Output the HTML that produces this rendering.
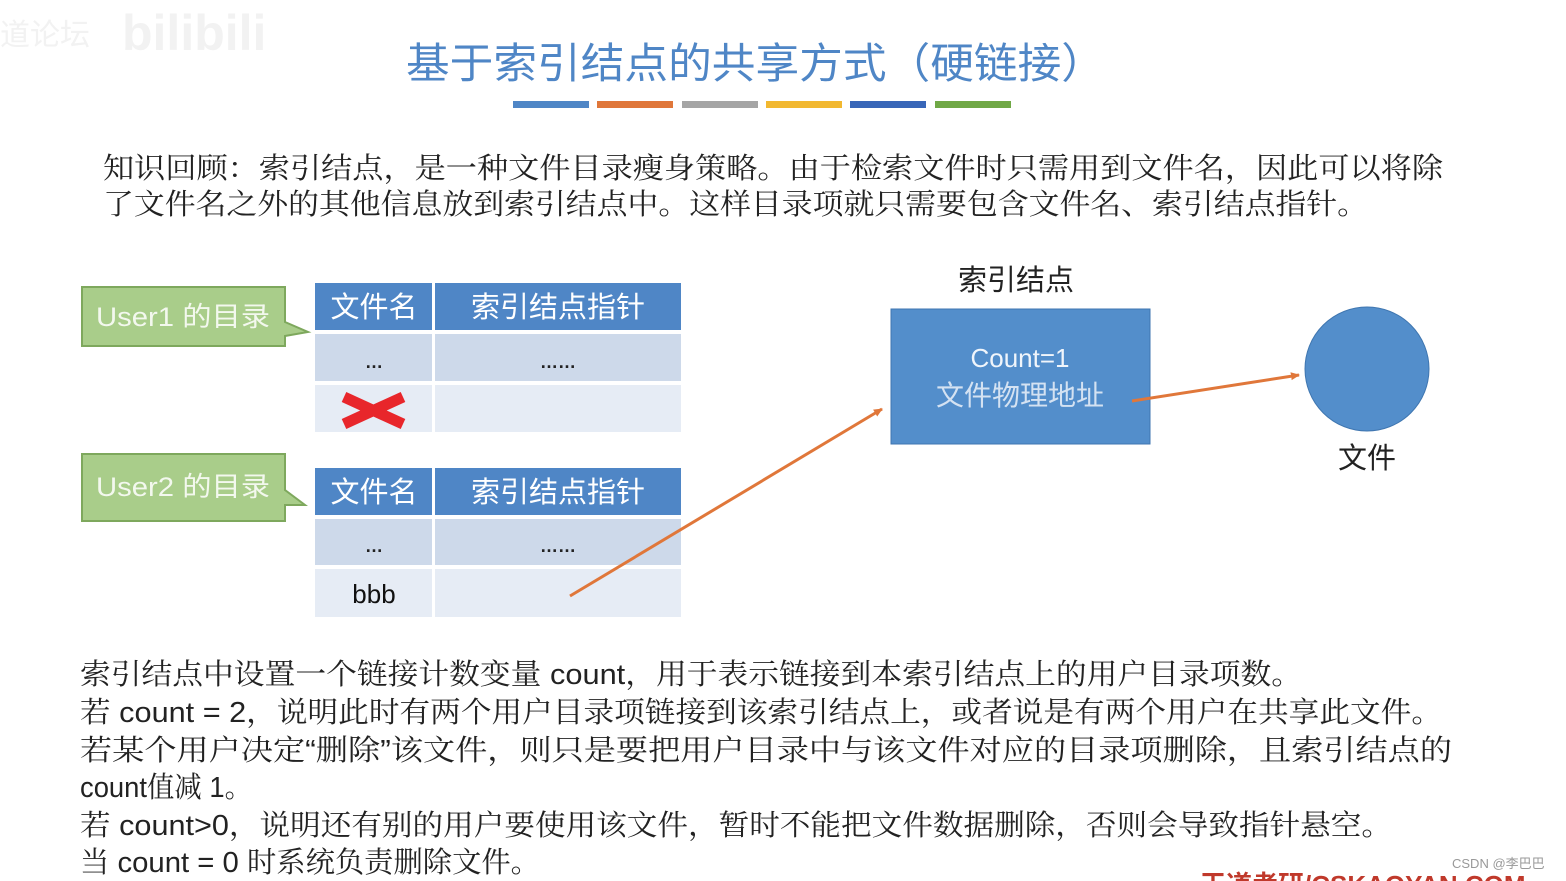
<!DOCTYPE html>
<html><head><meta charset="utf-8"><style>
html,body{margin:0;padding:0;background:#fff;}
body{width:1566px;height:881px;overflow:hidden;position:relative;}
svg{position:absolute;left:0;top:0;}
.s{font-family:"Liberation Sans","Noto Serif CJK SC",serif;}
.a{font-family:"Liberation Sans","Noto Sans CJK SC",sans-serif;}
</style></head><body>
<svg width="1566" height="881" viewBox="0 0 1566 881">
<defs>
<marker id="ah" markerWidth="10" markerHeight="10" refX="8" refY="5" orient="auto" markerUnits="userSpaceOnUse"><path d="M0,1 L9,5 L0,9 Z" fill="#e0773a"/></marker>
</defs>
<text x="0" y="45" class="a" font-size="30" fill="#f2f2f2">道论坛</text>
<text x="122" y="50" class="a" font-size="50" font-weight="bold" fill="#f2f2f2">bilibili</text>
<text x="406" y="78" textLength="699" lengthAdjust="spacingAndGlyphs" class="a" font-size="42" fill="#4f86c6">基于索引结点的共享方式（硬链接）</text>
<rect x="513" y="101" width="76" height="7" fill="#4f86c6"/>
<rect x="597" y="101" width="76" height="7" fill="#e0773a"/>
<rect x="682" y="101" width="76" height="7" fill="#a5a5a5"/>
<rect x="766" y="101" width="76" height="7" fill="#f2b830"/>
<rect x="850" y="101" width="76" height="7" fill="#3866b8"/>
<rect x="935" y="101" width="76" height="7" fill="#70a846"/>
<g class="s" font-size="29" fill="#222">
<text x="103" y="178" textLength="1340" lengthAdjust="spacingAndGlyphs">知识回顾：索引结点，是一种文件目录瘦身策略。由于检索文件时只需用到文件名，因此可以将除</text>
<text x="103" y="214" textLength="1265" lengthAdjust="spacingAndGlyphs">了文件名之外的其他信息放到索引结点中。这样目录项就只需要包含文件名、索引结点指针。</text>
</g>
<path d="M82,287 H285 V322 L308,332 L285,336 V346 H82 Z" fill="#a9cd8a" stroke="#7ea85d" stroke-width="2"/>
<text x="96" y="326" textLength="174" lengthAdjust="spacingAndGlyphs" class="a" font-size="27" fill="#f3f8ee">User1 的目录</text>
<path d="M82,454 H285 V490 L305,505 L285,505 V521 H82 Z" fill="#a9cd8a" stroke="#7ea85d" stroke-width="2"/>
<text x="96" y="496" textLength="174" lengthAdjust="spacingAndGlyphs" class="a" font-size="27" fill="#f3f8ee">User2 的目录</text>
<rect x="315" y="283" width="366" height="47" fill="#4f86c6"/>
<rect x="315" y="334" width="366" height="47" fill="#cdd9ea"/>
<rect x="315" y="385" width="366" height="47" fill="#e6ecf5"/>
<rect x="432" y="283" width="3" height="149" fill="#fff"/>
<text x="374" y="317" text-anchor="middle" class="a" font-size="29" fill="#fff">文件名</text>
<text x="558" y="317" text-anchor="middle" class="a" font-size="29" fill="#fff">索引结点指针</text>
<text x="374" y="368" text-anchor="middle" class="a" font-size="18" font-weight="bold" fill="#222">…</text>
<text x="558" y="368" text-anchor="middle" class="a" font-size="18" font-weight="bold" fill="#222">……</text>
<line x1="344" y1="397" x2="403" y2="424" stroke="#e8262b" stroke-width="11"/>
<line x1="344" y1="424" x2="403" y2="397" stroke="#e8262b" stroke-width="11"/>
<rect x="315" y="468" width="366" height="47" fill="#4f86c6"/>
<rect x="315" y="519" width="366" height="46" fill="#cdd9ea"/>
<rect x="315" y="569" width="366" height="48" fill="#e6ecf5"/>
<rect x="432" y="468" width="3" height="149" fill="#fff"/>
<text x="374" y="502" text-anchor="middle" class="a" font-size="29" fill="#fff">文件名</text>
<text x="558" y="502" text-anchor="middle" class="a" font-size="29" fill="#fff">索引结点指针</text>
<text x="374" y="552" text-anchor="middle" class="a" font-size="18" font-weight="bold" fill="#222">…</text>
<text x="558" y="552" text-anchor="middle" class="a" font-size="18" font-weight="bold" fill="#222">……</text>
<text x="374" y="603" text-anchor="middle" class="a" font-size="26" fill="#111">bbb</text>
<text x="1016" y="290" text-anchor="middle" class="a" font-size="29" fill="#222">索引结点</text>
<rect x="891" y="309" width="259" height="135" fill="#538ecb" stroke="#3f76b0" stroke-width="1"/>
<text x="1020" y="367" text-anchor="middle" class="a" font-size="26" fill="#f0f5fb">Count=1</text>
<text x="1020" y="405" text-anchor="middle" class="a" font-size="28" fill="#d4e2f2">文件物理地址</text>
<circle cx="1367" cy="369" r="62" fill="#538ecb" stroke="#3f76b0" stroke-width="1"/>
<text x="1367" y="468" text-anchor="middle" class="a" font-size="29" fill="#222">文件</text>
<line x1="570" y1="596" x2="882" y2="409" stroke="#e0773a" stroke-width="3" marker-end="url(#ah)"/>
<line x1="1132" y1="401" x2="1299" y2="375" stroke="#e0773a" stroke-width="3" marker-end="url(#ah)"/>
<g class="s" font-size="29" fill="#222">
<text x="80" y="684" textLength="1222" lengthAdjust="spacingAndGlyphs">索引结点中设置一个链接计数变量 count，用于表示链接到本索引结点上的用户目录项数。</text>
<text x="80" y="722" textLength="1362" lengthAdjust="spacingAndGlyphs">若 count = 2，说明此时有两个用户目录项链接到该索引结点上，或者说是有两个用户在共享此文件。</text>
<text x="80" y="760" textLength="1372" lengthAdjust="spacingAndGlyphs">若某个用户决定“删除”该文件，则只是要把用户目录中与该文件对应的目录项删除，且索引结点的</text>
<text x="80" y="797" textLength="172" lengthAdjust="spacingAndGlyphs">count值减 1。</text>
<text x="80" y="835" textLength="1312" lengthAdjust="spacingAndGlyphs">若 count&gt;0，说明还有别的用户要使用该文件，暂时不能把文件数据删除，否则会导致指针悬空。</text>
<text x="80" y="872" textLength="460" lengthAdjust="spacingAndGlyphs">当 count = 0 时系统负责删除文件。</text>
</g>
<text x="1452" y="868" class="a" font-size="13" fill="#999">CSDN @李巴巴</text>
<text x="1200" y="894" class="a" font-size="26" font-weight="bold" fill="#c0392b">王道考研/CSKAOYAN.COM</text>
</svg>
</body></html>
